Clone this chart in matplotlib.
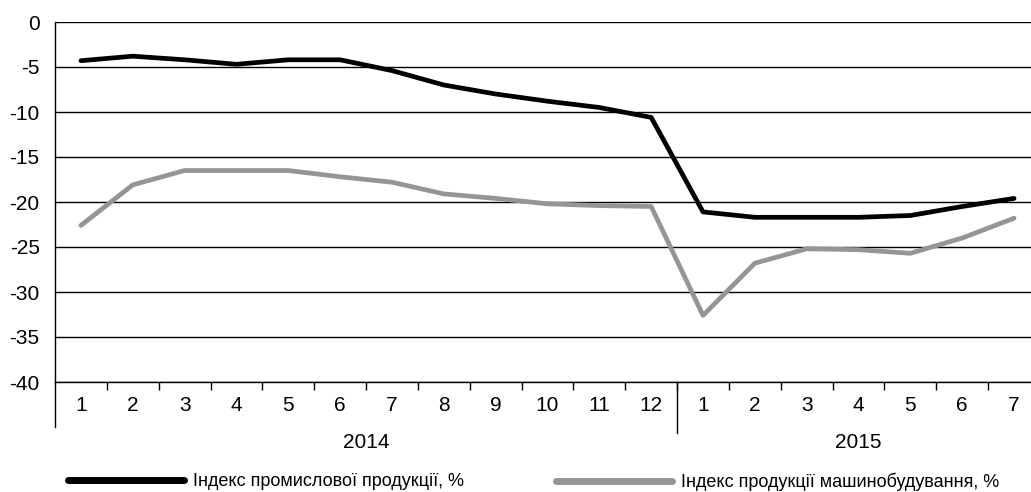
import matplotlib
matplotlib.use("Agg")
import matplotlib.pyplot as plt
from matplotlib.lines import Line2D
from matplotlib.transforms import blended_transform_factory

plt.rcParams["font.family"] = ["Liberation Sans", "DejaVu Sans"]
plt.rcParams["font.size"] = 15
plt.rcParams["axes.unicode_minus"] = False

months = ["1", "2", "3", "4", "5", "6", "7", "8", "9", "10", "11", "12",
          "1", "2", "3", "4", "5", "6", "7"]
years = ["2014", "2015"]
year_counts = [12, 7]

industry = [-4.3, -3.8, -4.2, -4.7, -4.2, -4.2, -5.4, -7.0, -8.0, -8.8, -9.5, -10.6,
            -21.1, -21.7, -21.7, -21.7, -21.5, -20.5, -19.6]
machinery = [-22.6, -18.1, -16.5, -16.5, -16.5, -17.2, -17.8, -19.1, -19.6, -20.2, -20.4, -20.5,
             -32.6, -26.8, -25.2, -25.3, -25.7, -24.0, -21.8]

label_industry = "Індекс промислової продукції, %"
label_machinery = "Індекс продукції машинобудування, %"

W, H = 1031, 492
fig = plt.figure(figsize=(W / 100, H / 100), dpi=100)
ax = fig.add_axes([55 / W, (H - 382) / H, (1040 - 55) / W, 360 / H])

x = list(range(len(months)))
ax.plot(x, industry, color="black", lw=3.4, solid_capstyle="round")
ax.plot(x, machinery, color="#939598", lw=3.4, solid_capstyle="round")

ax.set_xlim(-0.5, len(months) - 0.5)
ax.set_ylim(-40, 0)
ax.set_yticks(range(-40, 1, 5))
ax.yaxis.grid(True, color="black", lw=1)
ax.set_axisbelow(True)
ax.tick_params(axis="y", length=0, pad=11, labelsize=15)

for s in ["top", "right"]:
    ax.spines[s].set_visible(False)
for s in ["left", "bottom"]:
    ax.spines[s].set_color("black")
    ax.spines[s].set_linewidth(1)

# month labels at centres, small ticks at boundaries
ax.set_xticks(x)
ax.set_xticklabels(months)
ax.tick_params(axis="x", length=0, pad=10, labelsize=15)
ax.set_xticks([i + 0.5 for i in range(len(months) - 1)], minor=True)
ax.tick_params(axis="x", which="minor", length=6, width=1, color="black", direction="out")

trans = blended_transform_factory(ax.transData, ax.transAxes)
# left axis and year separator run down past the month labels
ax.plot([-0.5, -0.5], [0, -0.125], transform=trans, color="black", lw=1, clip_on=False)
sep = year_counts[0] - 0.5
ax.plot([sep, sep], [0, -0.142], transform=trans, color="black", lw=1, clip_on=False)

start = 0
for yr, n in zip(years, year_counts):
    ax.text(start + (n - 1) / 2, -0.168, yr, transform=trans, ha="center", va="center", fontsize=15)
    start += n

legend_y = 1 - 482 / H
for color, label, left in [("black", label_industry, 68), ("#939598", label_machinery, 556)]:
    handle = Line2D([], [], color=color, lw=5, solid_capstyle="round")
    fig.legend([handle], [label], loc="center left", bbox_to_anchor=(left / W, legend_y),
               frameon=False, handlelength=6.4, handletextpad=0.55, fontsize=13,
               borderaxespad=0, borderpad=0)

fig.savefig("out.png", dpi=100)
